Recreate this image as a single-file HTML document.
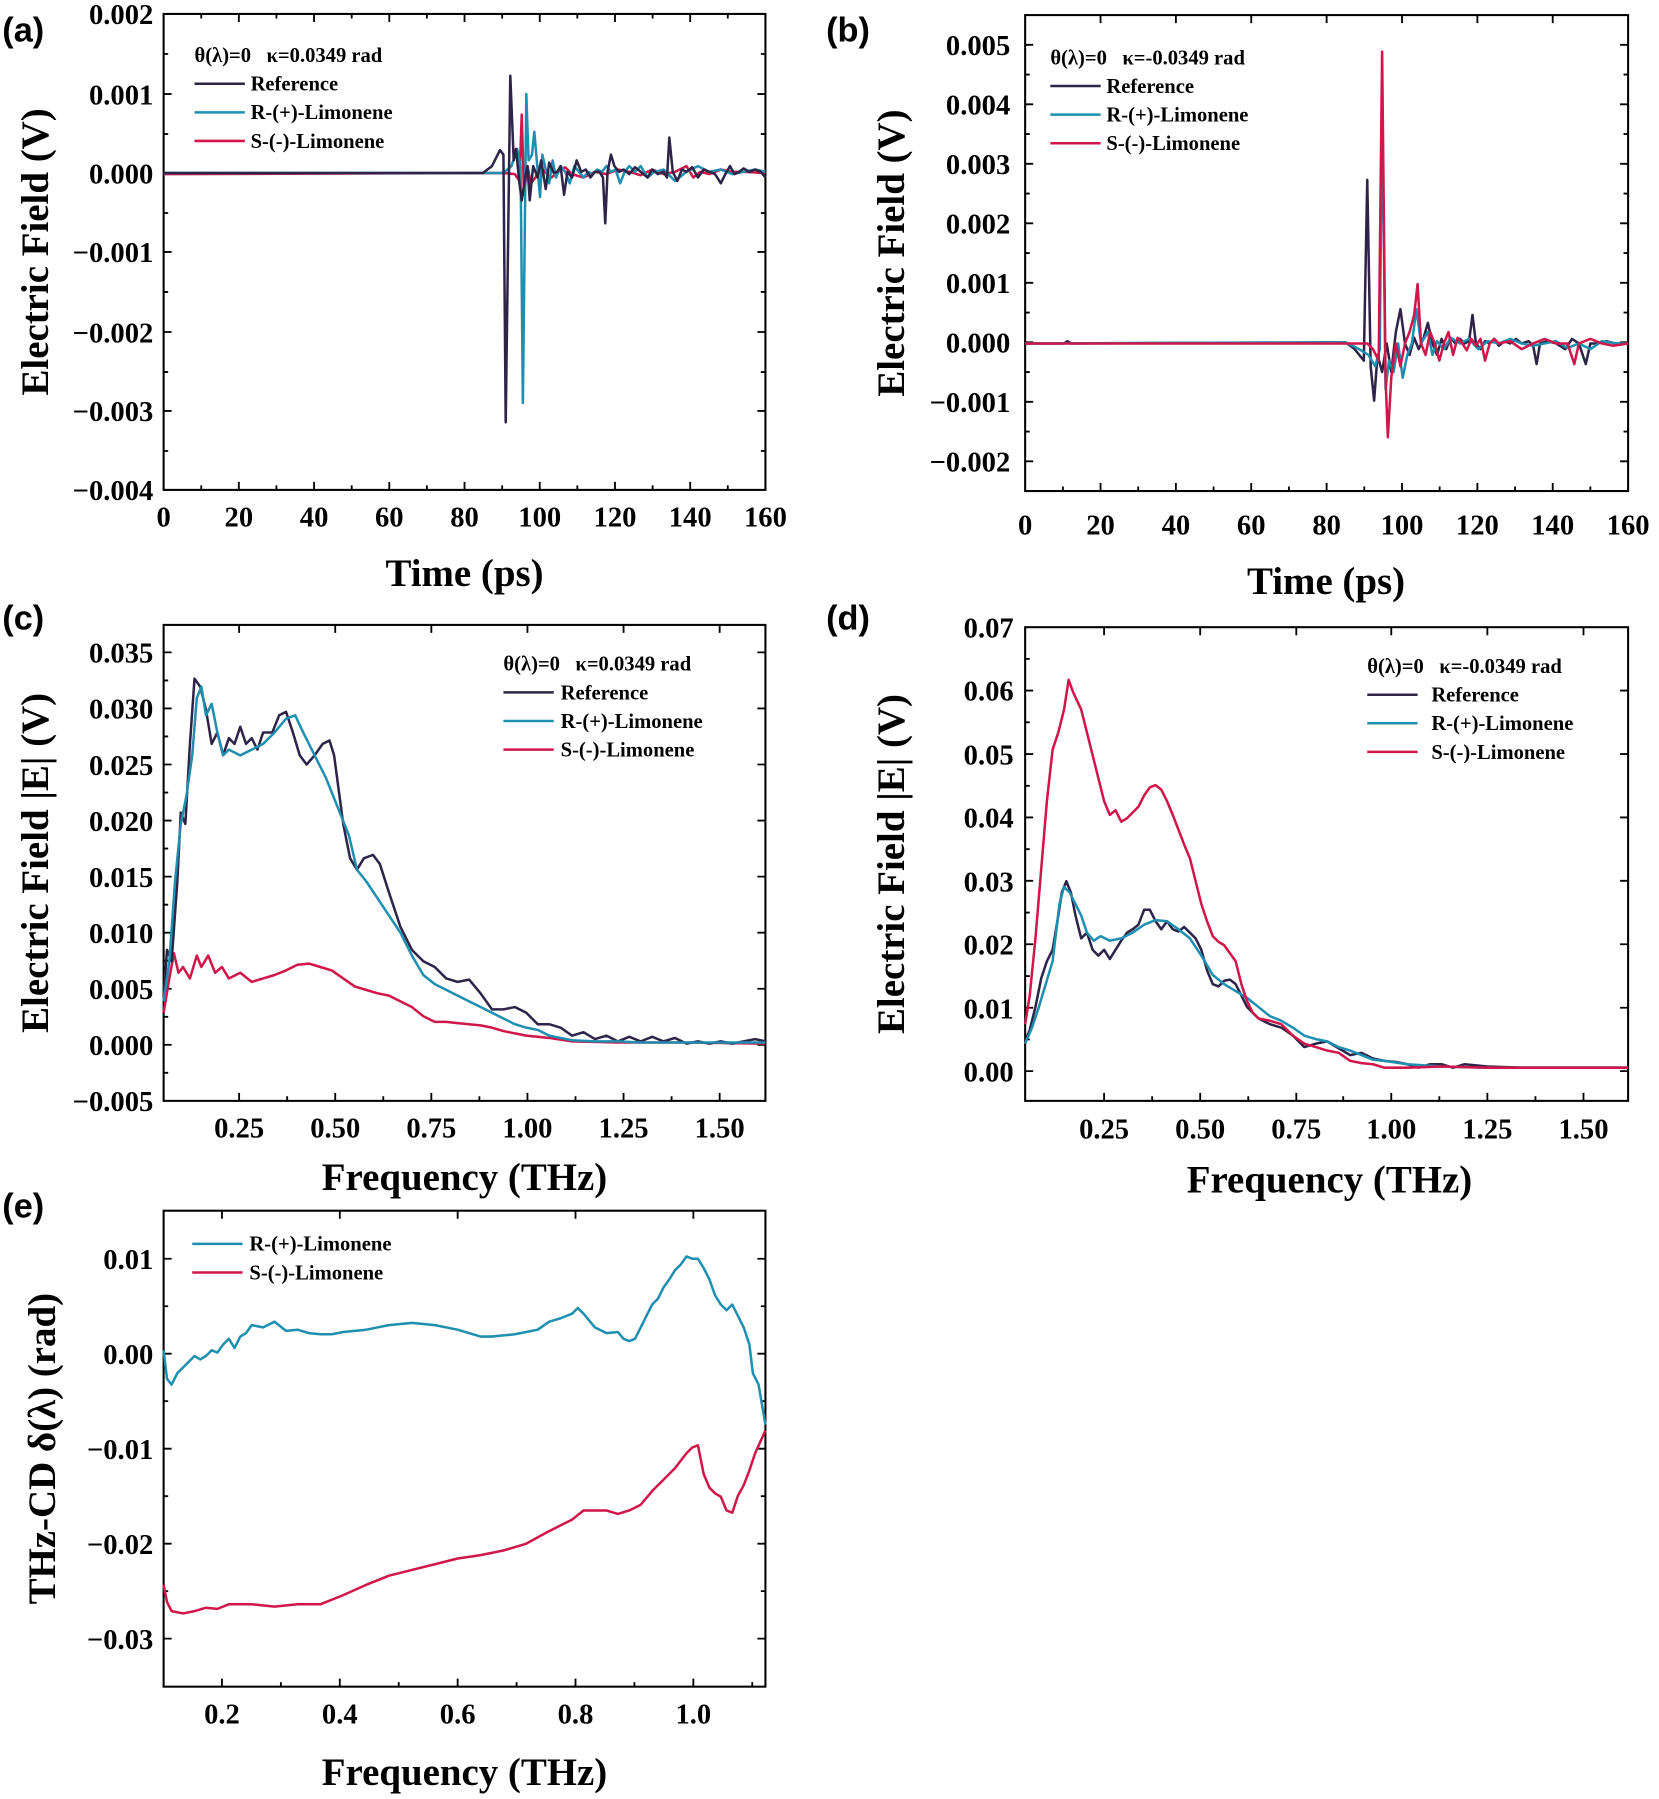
<!DOCTYPE html>
<html><head><meta charset="utf-8"><style>
html,body{margin:0;padding:0;background:#fff;}
svg{display:block;}
text{font-family:"Liberation Serif",serif;font-weight:bold;fill:#000;}
.tl{font-size:25px;}
.at{font-size:34px;}
.lg{font-size:18px;white-space:pre;}
.pl{font-family:"Liberation Sans",sans-serif;font-size:30px;}
.ax{fill:none;stroke:#000;stroke-width:1.8;}
.tk{fill:none;stroke:#000;stroke-width:1.6;}
.s{fill:none;stroke-width:2.2;stroke-linejoin:round;}
.r{stroke:#2e2448;}.c{stroke:#1f8fb0;}.m{stroke:#d0164a;}
</style></head><body>
<svg width="1659" height="1799" viewBox="0 0 1450 1572" xmlns="http://www.w3.org/2000/svg">
<!-- ===== (a) ===== -->
<text class="pl" x="2" y="36">(a)</text>
<rect class="ax" x="143" y="12" width="526" height="416"/>
<path class="tk" d="M143,82h7M143,151h7M143,220h7M143,290h7M143,359h7M143,47h4M143,117h4M143,186h4M143,255h4M143,325h4M143,394h4
M669,82h-7M669,151h-7M669,220h-7M669,290h-7M669,359h-7M669,47h-4M669,117h-4M669,186h-4M669,255h-4M669,325h-4M669,394h-4
M208.75,428v-7M274.5,428v-7M340.25,428v-7M406,428v-7M471.75,428v-7M537.5,428v-7M603.25,428v-7M175.9,428v-4M241.6,428v-4M307.4,428v-4M373.1,428v-4M438.9,428v-4M504.6,428v-4M570.4,428v-4M636.1,428v-4
M208.75,12v7M274.5,12v7M340.25,12v7M406,12v7M471.75,12v7M537.5,12v7M603.25,12v7M175.9,12v4M241.6,12v4M307.4,12v4M373.1,12v4M438.9,12v4M504.6,12v4M570.4,12v4M636.1,12v4"/>
<g class="tl" text-anchor="end"><text x="134" y="21">0.002</text><text x="134" y="91">0.001</text><text x="134" y="160">0.000</text><text x="134" y="229">−0.001</text><text x="134" y="299">−0.002</text><text x="134" y="368">−0.003</text><text x="134" y="437">−0.004</text></g>
<g class="tl" text-anchor="middle"><text x="143" y="460">0</text><text x="208.75" y="460">20</text><text x="274.5" y="460">40</text><text x="340.25" y="460">60</text><text x="406" y="460">80</text><text x="471.75" y="460">100</text><text x="537.5" y="460">120</text><text x="603.25" y="460">140</text><text x="669" y="460">160</text></g>
<text class="at" x="406" y="512" text-anchor="middle">Time (ps)</text>
<text class="at" transform="translate(42,220) rotate(-90)" text-anchor="middle">Electric Field (V)</text>
<text class="lg" x="170" y="54">θ(λ)=0   κ=0.0349 rad</text>
<path class="s r" d="M170,73h44"/><text class="lg" x="219" y="79">Reference</text>
<path class="s c" d="M170,98h44"/><text class="lg" x="219" y="104">R-(+)-Limonene</text>
<path class="s m" d="M170,123h44"/><text class="lg" x="219" y="129">S-(-)-Limonene</text>
<polyline class="s m" points="143,152 440,151 450,152 454,158 456,100 458,170 461,145 464,160 468,155 472,145 476,150 482,155 488,150 494,146 500,152 510,155 520,150 530,152 540,148 550,150 560,153 570,148 580,152 590,150 600,145 606,155 612,150 620,152 630,148 640,150 650,150 669,151"/>
<polyline class="s c" points="143,151 440,151 447,145 452,130 455,145 457,352 460,82 462,140 465,135 467,115 470,150 472,172 474,135 477,148 480,160 483,140 486,155 490,145 494,150 498,160 502,145 506,150 510,155 514,150 518,152 522,148 526,150 530,145 534,150 538,148 542,160 546,150 550,145 555,150 560,145 566,155 572,150 580,148 590,158 600,150 610,145 620,150 630,148 640,152 650,150 660,148 669,150"/>
<polyline class="s r" points="143,151 422,151 430,145 437,131 440,135 442,369 446,66 449,140 451,130 454,160 456,175 459,155 461,145 463,175 466,145 470,155 473,140 477,165 480,142 484,151 487,150 490,145 493,170 496,150 500,155 504,140 508,150 512,148 516,155 520,150 524,150 527,155 529,195 531,150 534,135 537,145 541,150 545,148 550,152 555,146 560,150 566,155 570,148 575,152 580,150 583,155 585,120 588,150 592,158 596,148 600,150 605,146 610,155 615,148 620,150 625,152 630,160 634,152 638,145 642,152 646,150 650,147 655,150 660,148 665,150 669,155"/>

<!-- ===== (b) ===== -->
<text class="pl" x="722" y="36">(b)</text>
<rect class="ax" x="896" y="13" width="527" height="416"/>
<path class="tk" d="M896,39h7M896,91h7M896,143h7M896,195h7M896,247h7M896,299h7M896,351h7M896,403h7M896,65h4M896,117h4M896,169h4M896,221h4M896,273h4M896,325h4M896,377h4
M1423,39h-7M1423,91h-7M1423,143h-7M1423,195h-7M1423,247h-7M1423,299h-7M1423,351h-7M1423,403h-7M1423,65h-4M1423,117h-4M1423,169h-4M1423,221h-4M1423,273h-4M1423,325h-4M1423,377h-4
M961.9,429v-7M1027.75,429v-7M1093.6,429v-7M1159.5,429v-7M1225.4,429v-7M1291.25,429v-7M1357.1,429v-7M929,429v-4M994.8,429v-4M1060.7,429v-4M1126.5,429v-4M1192.4,429v-4M1258.3,429v-4M1324.2,429v-4M1390,429v-4
M961.9,13v7M1027.75,13v7M1093.6,13v7M1159.5,13v7M1225.4,13v7M1291.25,13v7M1357.1,13v7"/>
<g class="tl" text-anchor="end"><text x="883" y="48">0.005</text><text x="883" y="100">0.004</text><text x="883" y="152">0.003</text><text x="883" y="204">0.002</text><text x="883" y="256">0.001</text><text x="883" y="308">0.000</text><text x="883" y="360">−0.001</text><text x="883" y="412">−0.002</text></g>
<g class="tl" text-anchor="middle"><text x="896" y="467">0</text><text x="961.9" y="467">20</text><text x="1027.75" y="467">40</text><text x="1093.6" y="467">60</text><text x="1159.5" y="467">80</text><text x="1225.4" y="467">100</text><text x="1291.25" y="467">120</text><text x="1357.1" y="467">140</text><text x="1423" y="467">160</text></g>
<text class="at" x="1159" y="519" text-anchor="middle">Time (ps)</text>
<text class="at" transform="translate(790,221) rotate(-90)" text-anchor="middle">Electric Field (V)</text>
<text class="lg" x="918" y="56">θ(λ)=0   κ=-0.0349 rad</text>
<path class="s r" d="M918,75h44"/><text class="lg" x="967" y="81">Reference</text>
<path class="s c" d="M918,100h44"/><text class="lg" x="967" y="106">R-(+)-Limonene</text>
<path class="s m" d="M918,125h44"/><text class="lg" x="967" y="131">S-(-)-Limonene</text>
<polyline class="s r" points="896,300 930,300 933,298 936,300 1176,299 1184,305 1188,310 1192,315 1195,157 1198,320 1201,350 1204,310 1208,325 1212,300 1216,325 1220,290 1224,270 1228,300 1232,310 1236,295 1240,305 1244,296 1248,282 1252,300 1256,310 1260,296 1264,305 1268,295 1272,300 1276,296 1280,300 1284,298 1287,275 1290,300 1294,305 1298,298 1302,300 1306,296 1310,302 1315,298 1320,300 1325,296 1330,300 1336,298 1340,302 1343,318 1346,300 1352,298 1360,300 1368,305 1374,296 1380,300 1386,318 1390,300 1396,300 1404,298 1412,300 1423,300"/>
<polyline class="s c" points="896,300 1176,299 1188,305 1196,310 1202,320 1206,305 1208,84 1211,340 1214,315 1218,325 1222,300 1226,330 1230,310 1234,300 1238,270 1242,300 1248,290 1252,310 1256,298 1262,305 1268,295 1276,300 1284,296 1292,305 1300,298 1310,300 1320,296 1330,300 1340,302 1350,300 1360,298 1370,304 1380,300 1390,305 1400,298 1412,300 1423,300"/>
<polyline class="s m" points="896,300 1176,300 1195,300 1200,305 1205,315 1208,45 1211,330 1213,382 1216,330 1220,300 1224,320 1228,300 1232,290 1236,275 1239,248 1242,300 1246,310 1250,290 1254,300 1258,315 1262,300 1266,290 1270,310 1274,295 1278,300 1282,306 1286,296 1290,302 1294,296 1298,315 1302,300 1306,296 1310,300 1320,298 1330,305 1340,300 1350,296 1360,300 1370,300 1376,318 1380,300 1390,296 1400,300 1410,302 1423,300"/>

<!-- ===== (c) ===== -->
<text class="pl" x="2" y="550">(c)</text>
<rect class="ax" x="143" y="546" width="526" height="416"/>
<path class="tk" d="M143,570h7M143,619h7M143,668h7M143,717h7M143,766h7M143,815h7M143,864h7M143,913h7M143,594.5h4M143,643.5h4M143,692.5h4M143,741.5h4M143,790.5h4M143,839.5h4M143,888.5h4M143,937.5h4
M669,570h-7M669,619h-7M669,668h-7M669,717h-7M669,766h-7M669,815h-7M669,864h-7M669,913h-7
M209,962v-7M293,962v-7M377,962v-7M461,962v-7M545,962v-7M629,962v-7M251,962v-4M335,962v-4M419,962v-4M503,962v-4M587,962v-4
M209,546v7M293,546v7M377,546v7M461,546v7M545,546v7M629,546v7"/>
<g class="tl" text-anchor="end"><text x="134" y="579">0.035</text><text x="134" y="628">0.030</text><text x="134" y="677">0.025</text><text x="134" y="726">0.020</text><text x="134" y="775">0.015</text><text x="134" y="824">0.010</text><text x="134" y="873">0.005</text><text x="134" y="922">0.000</text><text x="134" y="971">−0.005</text></g>
<g class="tl" text-anchor="middle"><text x="209" y="994">0.25</text><text x="293" y="994">0.50</text><text x="377" y="994">0.75</text><text x="461" y="994">1.00</text><text x="545" y="994">1.25</text><text x="629" y="994">1.50</text></g>
<text class="at" x="406" y="1040" text-anchor="middle">Frequency (THz)</text>
<text class="at" transform="translate(42,754) rotate(-90)" text-anchor="middle">Electric Field |E| (V)</text>
<text class="lg" x="440" y="586">θ(λ)=0   κ=0.0349 rad</text>
<path class="s r" d="M440,605h44"/><text class="lg" x="490" y="611">Reference</text>
<path class="s c" d="M440,630h44"/><text class="lg" x="490" y="636">R-(+)-Limonene</text>
<path class="s m" d="M440,655h44"/><text class="lg" x="490" y="661">S-(-)-Limonene</text>
<polyline class="s m" points="143,885 148,855 152,833 156,850 160,845 166,855 172,835 176,845 182,835 188,850 194,845 200,855 210,850 220,858 230,855 240,852 250,848 260,843 270,842 280,845 290,848 300,855 310,862 320,865 330,868 340,870 350,875 360,880 370,888 380,893 390,893 400,894 410,895 420,896 430,898 440,901 450,903 460,905 480,907 500,910 540,911 600,911 669,912"/>
<polyline class="s r" points="143,870 146,830 150,840 155,770 158,710 162,720 166,650 170,593 175,600 180,620 185,650 190,640 195,660 200,645 205,650 210,635 215,650 220,645 225,655 230,640 238,640 244,625 250,622 256,640 262,660 268,668 275,660 282,650 288,647 292,660 296,690 300,720 306,750 312,760 318,750 326,747 332,755 340,780 350,810 360,830 370,840 380,845 390,855 400,858 410,856 420,868 430,882 440,882 450,880 460,885 470,895 480,895 490,898 500,905 510,902 520,908 530,905 540,910 550,906 560,910 570,906 580,910 590,907 600,912 610,910 620,912 630,910 640,912 650,910 660,908 669,910"/>
<polyline class="s c" points="143,875 148,840 153,770 158,720 163,695 168,660 172,610 176,600 180,625 185,615 190,640 195,660 200,655 210,660 220,655 230,650 240,640 250,628 258,625 265,640 275,660 285,680 295,705 305,730 312,760 320,770 330,785 340,800 350,815 360,835 370,852 380,860 390,865 400,870 410,875 420,880 430,885 440,890 450,895 460,898 470,900 480,905 490,907 500,909 520,910 540,910 560,911 600,911 640,911 669,911"/>

<!-- ===== (d) ===== -->
<text class="pl" x="722" y="550">(d)</text>
<rect class="ax" x="896" y="548" width="527" height="414"/>
<path class="tk" d="M896,603.4h7M896,658.9h7M896,714.3h7M896,769.7h7M896,825.1h7M896,880.6h7M896,936h7M896,575.7h4M896,631.1h4M896,686.6h4M896,742h4M896,797.4h4M896,852.9h4M896,908.3h4
M1423,603.4h-7M1423,658.9h-7M1423,714.3h-7M1423,769.7h-7M1423,825.1h-7M1423,880.6h-7M1423,936h-7
M965,962v-7M1049,962v-7M1133,962v-7M1216,962v-7M1300,962v-7M1384,962v-7M1007,962v-4M1091,962v-4M1174,962v-4M1258,962v-4M1342,962v-4
M965,548v7M1049,548v7M1133,548v7M1216,548v7M1300,548v7M1384,548v7"/>
<g class="tl" text-anchor="end"><text x="886" y="557">0.07</text><text x="886" y="612">0.06</text><text x="886" y="668">0.05</text><text x="886" y="723">0.04</text><text x="886" y="779">0.03</text><text x="886" y="834">0.02</text><text x="886" y="890">0.01</text><text x="886" y="945">0.00</text></g>
<g class="tl" text-anchor="middle"><text x="965" y="995">0.25</text><text x="1049" y="995">0.50</text><text x="1133" y="995">0.75</text><text x="1216" y="995">1.00</text><text x="1300" y="995">1.25</text><text x="1384" y="995">1.50</text></g>
<text class="at" x="1162" y="1042" text-anchor="middle">Frequency (THz)</text>
<text class="at" transform="translate(790,755) rotate(-90)" text-anchor="middle">Electric Field |E| (V)</text>
<text class="lg" x="1195" y="588">θ(λ)=0   κ=-0.0349 rad</text>
<path class="s r" d="M1195,607h44"/><text class="lg" x="1251" y="613">Reference</text>
<path class="s c" d="M1195,632h44"/><text class="lg" x="1251" y="638">R-(+)-Limonene</text>
<path class="s m" d="M1195,657h44"/><text class="lg" x="1251" y="663">S-(-)-Limonene</text>
<polyline class="s r" points="896,910 900,900 905,880 910,855 915,840 920,830 925,800 928,780 932,770 936,780 940,800 945,820 950,815 955,830 960,835 965,830 970,838 975,830 980,822 985,815 990,812 995,808 1000,795 1005,795 1010,805 1015,812 1020,805 1025,812 1030,814 1035,810 1040,815 1045,820 1050,830 1055,848 1060,860 1065,862 1070,857 1075,856 1080,860 1085,870 1090,880 1100,890 1110,895 1120,898 1130,905 1140,915 1150,912 1160,910 1170,916 1180,922 1190,920 1200,925 1210,927 1220,928 1230,930 1240,933 1250,930 1260,930 1270,933 1280,930 1300,932 1330,933 1360,933 1423,933"/>
<polyline class="s c" points="896,912 902,898 908,880 914,860 920,840 926,790 930,775 935,780 940,790 945,800 950,815 956,822 962,818 970,822 980,820 990,815 1000,808 1010,804 1020,805 1030,812 1040,820 1050,835 1060,852 1070,860 1080,866 1090,872 1100,880 1110,888 1120,892 1130,898 1140,905 1150,908 1160,910 1170,915 1180,918 1190,922 1200,926 1210,927 1230,930 1260,932 1300,933 1423,933"/>
<polyline class="s m" points="896,895 900,870 905,820 910,760 915,700 920,655 925,640 930,620 934,594 938,605 945,620 950,640 955,660 960,680 965,700 970,712 975,708 980,718 985,715 990,710 995,705 1000,695 1005,688 1010,686 1015,690 1020,700 1025,712 1030,725 1035,738 1040,750 1045,770 1050,790 1055,805 1060,818 1065,823 1070,826 1075,833 1080,840 1085,860 1090,875 1095,885 1100,890 1110,892 1120,895 1130,905 1140,912 1150,915 1160,918 1170,920 1180,927 1190,929 1200,930 1210,933 1230,933 1260,932 1300,933 1423,933"/>

<!-- ===== (e) ===== -->
<text class="pl" x="2" y="1064">(e)</text>
<rect class="ax" x="143" y="1058" width="526" height="416"/>
<path class="tk" d="M143,1100h7M143,1183h7M143,1266h7M143,1349h7M143,1432h7M143,1141.5h4M143,1224.5h4M143,1307.5h4M143,1390.5h4
M669,1100h-7M669,1183h-7M669,1266h-7M669,1349h-7M669,1432h-7M669,1141.5h-4M669,1224.5h-4M669,1307.5h-4M669,1390.5h-4
M194,1474v-7M297,1474v-7M400,1474v-7M503,1474v-7M606,1474v-7M245.5,1474v-4M348.5,1474v-4M451.5,1474v-4M554.5,1474v-4M657.5,1474v-4
M194,1058v7M297,1058v7M400,1058v7M503,1058v7M606,1058v7"/>
<g class="tl" text-anchor="end"><text x="134" y="1109">0.01</text><text x="134" y="1192">0.00</text><text x="134" y="1275">−0.01</text><text x="134" y="1358">−0.02</text><text x="134" y="1441">−0.03</text></g>
<g class="tl" text-anchor="middle"><text x="194" y="1506">0.2</text><text x="297" y="1506">0.4</text><text x="400" y="1506">0.6</text><text x="503" y="1506">0.8</text><text x="606" y="1506">1.0</text></g>
<text class="at" x="406" y="1560" text-anchor="middle">Frequency (THz)</text>
<text class="at" transform="translate(48,1266) rotate(-90)" text-anchor="middle">THz-CD δ(λ) (rad)</text>
<path class="s c" d="M168,1087h44"/><text class="lg" x="218" y="1093">R-(+)-Limonene</text>
<path class="s m" d="M168,1112h44"/><text class="lg" x="218" y="1118">S-(-)-Limonene</text>
<polyline class="s c" points="143,1180 146,1205 150,1210 155,1200 160,1195 165,1190 170,1185 175,1188 180,1185 185,1180 190,1182 195,1175 200,1170 205,1178 210,1168 215,1165 220,1158 230,1160 240,1155 250,1163 260,1162 270,1165 280,1166 290,1166 300,1164 320,1162 340,1158 360,1156 380,1158 400,1162 420,1168 430,1168 440,1167 450,1166 460,1164 470,1162 480,1155 490,1152 500,1148 505,1143 510,1148 520,1160 530,1165 540,1164 545,1170 550,1172 555,1170 560,1160 565,1150 570,1140 575,1135 580,1125 585,1118 590,1110 595,1105 600,1098 605,1100 610,1100 615,1108 620,1118 625,1132 630,1140 635,1145 640,1140 645,1150 650,1160 655,1175 658,1200 663,1210 669,1245"/>
<polyline class="s m" points="143,1385 146,1400 150,1408 160,1410 170,1408 180,1405 190,1406 200,1402 220,1402 240,1404 260,1402 280,1402 300,1394 320,1385 340,1377 360,1372 380,1367 400,1362 420,1359 440,1355 460,1349 480,1338 500,1328 510,1320 520,1320 530,1320 540,1323 550,1320 560,1315 570,1303 580,1293 590,1283 600,1270 605,1265 610,1263 615,1288 620,1300 625,1305 630,1308 635,1320 640,1322 645,1307 650,1298 655,1285 660,1270 669,1250"/>
</svg>
</body></html>
